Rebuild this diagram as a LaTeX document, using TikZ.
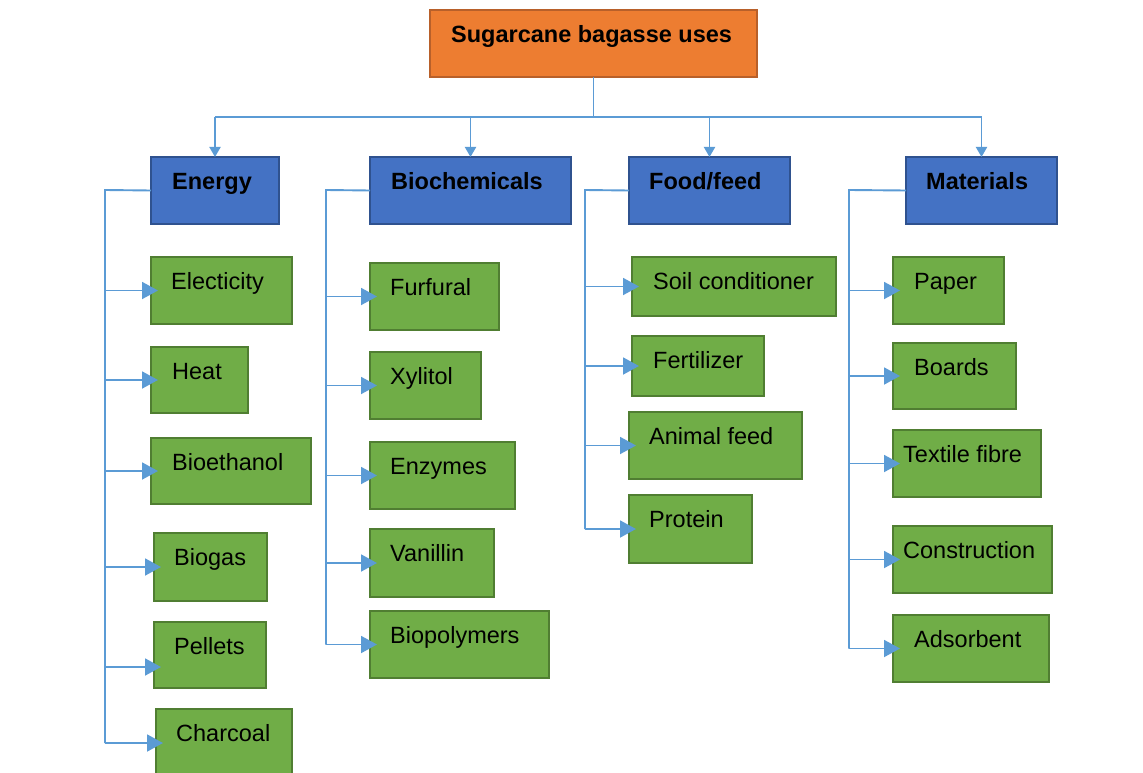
\documentclass[tikz,border=0pt]{standalone}
\usepackage{fontspec}
\setmainfont{Liberation Sans}
\usetikzlibrary{arrows.meta,calc}
\definecolor{gfill}{HTML}{70AD47}
\definecolor{gline}{HTML}{507E32}
\definecolor{bfill}{HTML}{4472C4}
\definecolor{bline}{HTML}{2F528F}
\definecolor{ofill}{HTML}{ED7D31}
\definecolor{oline}{HTML}{B8602A}
\definecolor{cline}{HTML}{5B9BD5}
\tikzset{
 box/.style={draw, line width=2.4pt, anchor=north west, inner sep=0pt, outer sep=0pt},
 gbox/.style={box, fill=gfill, draw=gline},
 bbox/.style={box, fill=bfill, draw=bline},
 obox/.style={box, fill=ofill, draw=oline},
 lbl/.style={anchor=base west, inner sep=0pt, font=\fontsize{23.5}{28}\selectfont},
 blbl/.style={anchor=base west, inner sep=0pt, font=\fontsize{23.5}{28}\selectfont\bfseries},
 conn/.style={draw=cline, line width=1.9pt},
 arr/.style={conn, -{Triangle[length=16pt,width=17pt]}, shorten >=-7pt},
 darr/.style={conn, -{Triangle[length=10pt,width=11pt]}},
}
% #1 box style, #2 name, #3 x1, #4 y1, #5 x2, #6 y2, #7 text style, #8 text x offset, #9 text
\newcommand\mkbox[9]{%
 \node[#1, minimum width={(#5-#3)*1pt}, minimum height={(#6-#4)*1pt}] (#2) at (#3,#4) {};
 \node[#7] (#2t) at ([xshift=#8pt,yshift=-32.5pt]#2.north west) {#9};
}
\begin{document}
\begin{tikzpicture}[x=1pt,y=-1pt]
\fill[white] (0,0) rectangle (1143,773);
\useasboundingbox (0,0) rectangle (1143,773);

% title and categories
\mkbox{obox}{title}{430}{10}{757}{77}{blbl}{21}{Sugarcane bagasse uses}
\mkbox{bbox}{energy}{151}{157}{279}{224}{blbl}{21}{Energy}
\mkbox{bbox}{bioch}{370}{157}{571}{224}{blbl}{21}{Biochemicals}
\mkbox{bbox}{food}{629}{157}{790}{224}{blbl}{20}{Food/feed}
\mkbox{bbox}{mat}{906}{157}{1057}{224}{blbl}{20}{Materials}

% energy items
\mkbox{gbox}{elec}{151}{257}{292}{324}{lbl}{20}{Electicity}
\mkbox{gbox}{heat}{151}{347}{248}{413}{lbl}{21}{Heat}
\mkbox{gbox}{bioeth}{151}{438}{311}{504}{lbl}{21}{Bioethanol}
\mkbox{gbox}{biogas}{154}{533}{267}{601}{lbl}{20}{Biogas}
\mkbox{gbox}{pellets}{154}{622}{266}{688}{lbl}{20}{Pellets}
\mkbox{gbox}{charcoal}{156}{709}{292}{777}{lbl}{20}{Charcoal}

% biochemical items
\mkbox{gbox}{furf}{370}{263}{499}{330}{lbl}{20}{Furfural}
\mkbox{gbox}{xyl}{370}{352}{481}{419}{lbl}{20}{Xylitol}
\mkbox{gbox}{enz}{370}{442}{515}{509}{lbl}{20}{Enzymes}
\mkbox{gbox}{van}{370}{529}{494}{597}{lbl}{20}{Vanillin}
\mkbox{gbox}{biopol}{370}{611}{549}{678}{lbl}{20}{Biopolymers}

% food/feed items
\mkbox{gbox}{soil}{632}{257}{836}{316}{lbl}{21}{Soil conditioner}
\mkbox{gbox}{fert}{632}{336}{764}{396}{lbl}{21}{Fertilizer}
\mkbox{gbox}{anim}{629}{412}{802}{479}{lbl}{20}{Animal feed}
\mkbox{gbox}{prot}{629}{495}{752}{563}{lbl}{20}{Protein}

% materials items
\mkbox{gbox}{paper}{893}{257}{1004}{324}{lbl}{21}{Paper}
\mkbox{gbox}{boards}{893}{343}{1016}{409}{lbl}{21}{Boards}
\mkbox{gbox}{textile}{893}{430}{1041}{497}{lbl}{10}{Textile fibre}
\mkbox{gbox}{constr}{893}{526}{1052}{593}{lbl}{10}{Construction}
\mkbox{gbox}{adsorb}{893}{615}{1049}{682}{lbl}{21}{Adsorbent}

% top tree
\coordinate (hub) at (593.5,117);
\draw[conn] (title.south) -- (hub);
\draw[conn] (energy.north |- hub) -- (mat.north |- hub);
\draw[darr] (energy.north |- hub) -- (energy.north);
\draw[darr] (bioch.north |- hub) -- (bioch.north);
\draw[darr] (food.north |- hub) -- (food.north);
\draw[darr] (mat.north |- hub) -- (mat.north);

% energy bus
\coordinate (ebus) at (105,190);
\coordinate (ebusend) at (105,743);
\coordinate (epel) at (105,667);
\draw[conn] (energy.west) -- (ebus) -- (ebusend);
\draw[arr] (ebus |- elec.west) -- (elec.west);
\draw[arr] (ebus |- heat.west) -- (heat.west);
\draw[arr] (ebus |- bioeth.west) -- (bioeth.west);
\draw[arr] (ebus |- biogas.west) -- (biogas.west);
\draw[arr] (epel) -- (pellets.west |- epel);
\draw[arr] (ebusend) -- (charcoal.west |- ebusend);

% biochemicals bus
\coordinate (bbus) at (326,190);
\coordinate (bbusend) at (326,644.5);
\draw[conn] (bioch.west) -- (bbus) -- (bbusend);
\draw[arr] (bbus |- furf.west) -- (furf.west);
\draw[arr] (bbus |- xyl.west) -- (xyl.west);
\draw[arr] (bbus |- enz.west) -- (enz.west);
\draw[arr] (bbus |- van.west) -- (van.west);
\draw[arr] (bbusend) -- (biopol.west);

% food bus
\coordinate (fbus) at (585,190);
\coordinate (fbusend) at (585,529);
\draw[conn] (food.west) -- (fbus) -- (fbusend);
\draw[arr] (fbus |- soil.west) -- (soil.west);
\draw[arr] (fbus |- fert.west) -- (fert.west);
\draw[arr] (fbus |- anim.west) -- (anim.west);
\draw[arr] (fbusend) -- (prot.west);

% materials bus
\coordinate (mbus) at (849,190);
\coordinate (mbusend) at (849,648.5);
\draw[conn] (mat.west) -- (mbus) -- (mbusend);
\draw[arr] (mbus |- paper.west) -- (paper.west);
\draw[arr] (mbus |- boards.west) -- (boards.west);
\draw[arr] (mbus |- textile.west) -- (textile.west);
\draw[arr] (mbus |- constr.west) -- (constr.west);
\draw[arr] (mbusend) -- (adsorb.west);
\end{tikzpicture}
\end{document}
